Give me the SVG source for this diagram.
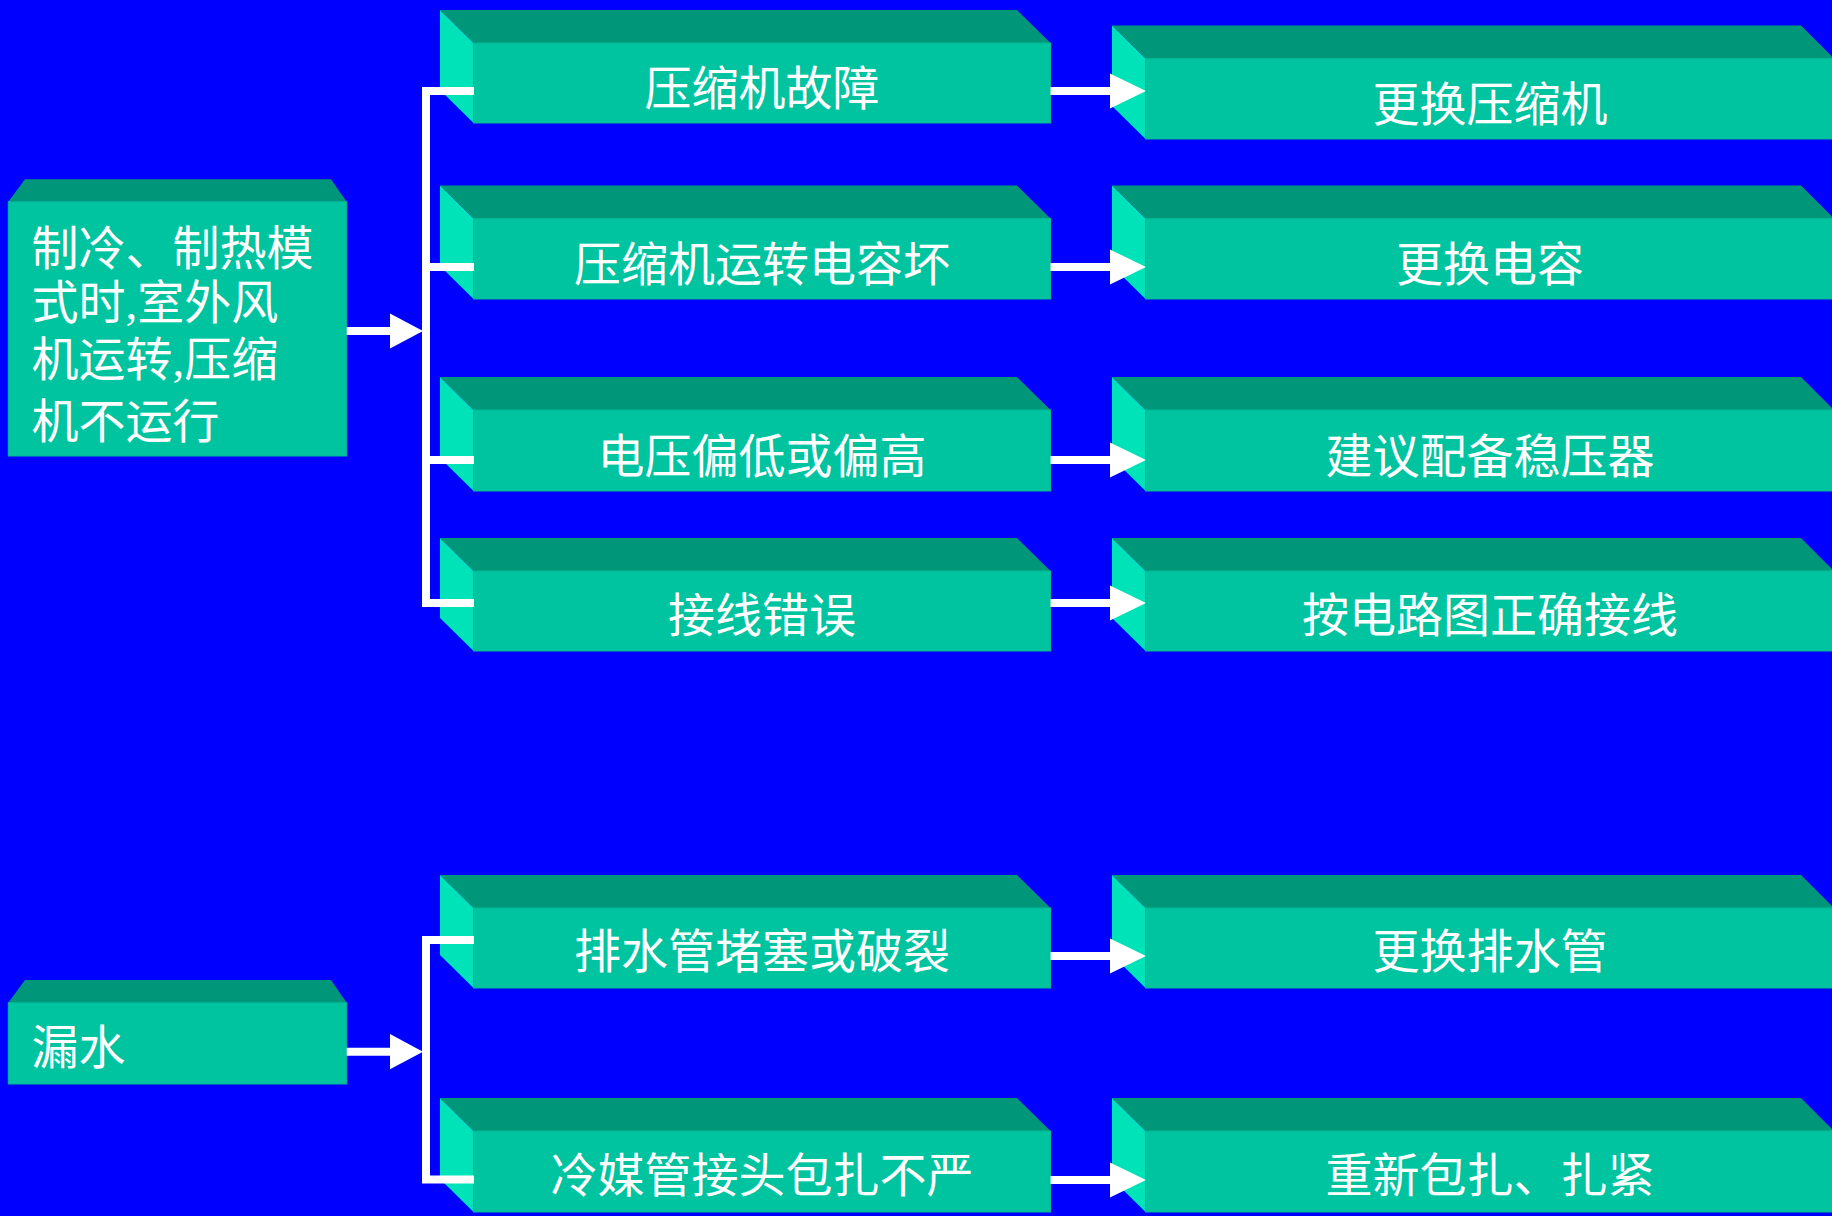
<svg xmlns="http://www.w3.org/2000/svg" width="1832" height="1216" viewBox="0 0 1832 1216">
<style>
.top{fill:#00967A}
.front{fill:#00C4A0;stroke:#00B896;stroke-width:1}
.side{fill:#00E2B8}
.t{font-family:"Liberation Serif","Noto Sans CJK SC",serif;font-size:47px;fill:#FFFFFF}
.c{text-anchor:middle}
.w{fill:none;stroke:#FFFFFF;stroke-width:8}
.ah{fill:#FFFFFF}
</style>
<rect x="0" y="0" width="1832" height="1216" fill="#0000FF"/>

<g id="node-fault1">
<polygon class="top" points="8.3,201.7 25,179.3 331,179.3 346.7,201.7"/>
<rect class="front" x="8.3" y="201.7" width="338.4" height="254.3"/>
<text class="t" x="31.5" y="265">制冷、制热模</text>
<text class="t" x="31.5" y="319">式时,室外风</text>
<text class="t" x="31.5" y="376">机运转,压缩</text>
<text class="t" x="31.5" y="438">机不运行</text>
</g>

<g id="node-fault2">
<polygon class="top" points="8.3,1002.7 25,980 331,980 346.7,1002.7"/>
<rect class="front" x="8.3" y="1002.7" width="338.4" height="81.3"/>
<text class="t" x="31.5" y="1064">漏水</text>
</g>

<g id="node-c1">
<polygon class="top" points="440,10 1017,10 1050.5,43 473.5,43"/>
<polygon class="side" points="440,10 473.5,43 473.5,123 440,90"/>
<rect class="front" x="473.5" y="43" width="577" height="80"/>
<text class="t c" x="762" y="105">压缩机故障</text>
</g>
<g id="node-c2">
<polygon class="top" points="440,185.5 1017,185.5 1050.5,218.5 473.5,218.5"/>
<polygon class="side" points="440,185.5 473.5,218.5 473.5,299 440,266"/>
<rect class="front" x="473.5" y="218.5" width="577" height="80.5"/>
<text class="t c" x="762" y="281">压缩机运转电容坏</text>
</g>
<g id="node-c3">
<polygon class="top" points="440,377 1017,377 1050.5,410 473.5,410"/>
<polygon class="side" points="440,377 473.5,410 473.5,491 440,458"/>
<rect class="front" x="473.5" y="410" width="577" height="81"/>
<text class="t c" x="762" y="473">电压偏低或偏高</text>
</g>
<g id="node-c4">
<polygon class="top" points="440,538 1017,538 1050.5,571 473.5,571"/>
<polygon class="side" points="440,538 473.5,571 473.5,651 440,618"/>
<rect class="front" x="473.5" y="571" width="577" height="80"/>
<text class="t c" x="762" y="632">接线错误</text>
</g>
<g id="node-c5">
<polygon class="top" points="440,875 1017,875 1050.5,908 473.5,908"/>
<polygon class="side" points="440,875 473.5,908 473.5,988 440,955"/>
<rect class="front" x="473.5" y="908" width="577" height="80"/>
<text class="t c" x="762" y="968">排水管堵塞或破裂</text>
</g>
<g id="node-c6">
<polygon class="top" points="440,1098 1017,1098 1050.5,1131 473.5,1131"/>
<polygon class="side" points="440,1098 473.5,1131 473.5,1212 440,1179"/>
<rect class="front" x="473.5" y="1131" width="577" height="81"/>
<text class="t c" x="762" y="1192">冷媒管接头包扎不严</text>
</g>

<g id="node-s1">
<polygon class="top" points="1112,25.5 1801,25.5 1834,58.5 1145.5,58.5"/>
<polygon class="side" points="1112,25.5 1145.5,58.5 1145.5,139 1112,106"/>
<rect class="front" x="1145.5" y="58.5" width="690" height="80.5"/>
<text class="t c" x="1490" y="121">更换压缩机</text>
</g>
<g id="node-s2">
<polygon class="top" points="1112,185.5 1801,185.5 1834,218.5 1145.5,218.5"/>
<polygon class="side" points="1112,185.5 1145.5,218.5 1145.5,299 1112,266"/>
<rect class="front" x="1145.5" y="218.5" width="690" height="80.5"/>
<text class="t c" x="1490" y="281">更换电容</text>
</g>
<g id="node-s3">
<polygon class="top" points="1112,377 1801,377 1834,410 1145.5,410"/>
<polygon class="side" points="1112,377 1145.5,410 1145.5,491 1112,458"/>
<rect class="front" x="1145.5" y="410" width="690" height="81"/>
<text class="t c" x="1490" y="473">建议配备稳压器</text>
</g>
<g id="node-s4">
<polygon class="top" points="1112,538 1801,538 1834,571 1145.5,571"/>
<polygon class="side" points="1112,538 1145.5,571 1145.5,651 1112,618"/>
<rect class="front" x="1145.5" y="571" width="690" height="80"/>
<text class="t c" x="1490" y="632">按电路图正确接线</text>
</g>
<g id="node-s5">
<polygon class="top" points="1112,875 1801,875 1834,908 1145.5,908"/>
<polygon class="side" points="1112,875 1145.5,908 1145.5,988 1112,955"/>
<rect class="front" x="1145.5" y="908" width="690" height="80"/>
<text class="t c" x="1490" y="968">更换排水管</text>
</g>
<g id="node-s6">
<polygon class="top" points="1112,1098 1801,1098 1834,1131 1145.5,1131"/>
<polygon class="side" points="1112,1098 1145.5,1131 1145.5,1212 1112,1179"/>
<rect class="front" x="1145.5" y="1131" width="690" height="81"/>
<text class="t c" x="1490" y="1192">重新包扎、扎紧</text>
</g>

<g id="connectors">
<line class="w" x1="346.7" y1="331" x2="392" y2="331"/>
<polygon class="ah" points="390,313.5 423,331 390,348.5"/>
<path class="w" d="M474,91 H426 V603 H474"/>
<line class="w" x1="422" y1="267" x2="474" y2="267"/>
<line class="w" x1="422" y1="460" x2="474" y2="460"/>

<line class="w" x1="346.7" y1="1051.7" x2="392" y2="1051.7"/>
<polygon class="ah" points="390,1034 423,1051.7 390,1069.3"/>
<path class="w" d="M474,940 H426 V1179.5 H474"/>

<line class="w" x1="1050.5" y1="91" x2="1112" y2="91"/>
<polygon class="ah" points="1110,73.5 1146,91 1110,108.5"/>
<line class="w" x1="1050.5" y1="267" x2="1112" y2="267"/>
<polygon class="ah" points="1110,249.5 1146,267 1110,284.5"/>
<line class="w" x1="1050.5" y1="460" x2="1112" y2="460"/>
<polygon class="ah" points="1110,442.5 1146,460 1110,477.5"/>
<line class="w" x1="1050.5" y1="603" x2="1112" y2="603"/>
<polygon class="ah" points="1110,585.5 1146,603 1110,620.5"/>
<line class="w" x1="1050.5" y1="956" x2="1112" y2="956"/>
<polygon class="ah" points="1110,938.5 1146,956 1110,973.5"/>
<line class="w" x1="1050.5" y1="1180" x2="1112" y2="1180"/>
<polygon class="ah" points="1110,1162.5 1146,1180 1110,1197.5"/>
</g>
</svg>
